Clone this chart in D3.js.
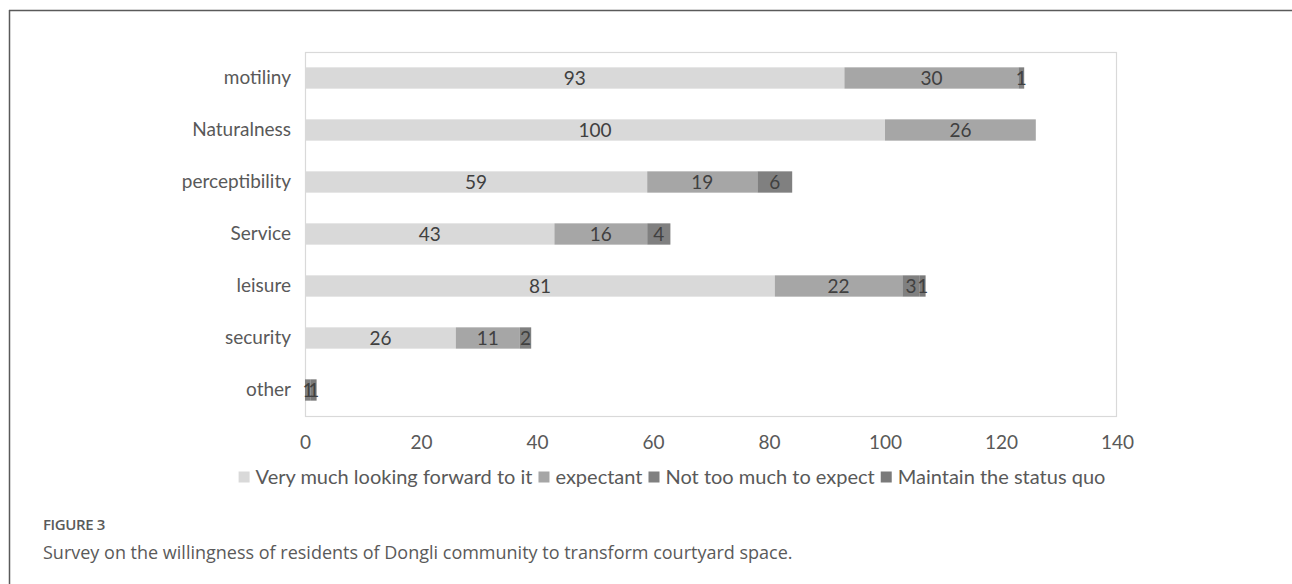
<!DOCTYPE html>
<html>
<head>
<meta charset="utf-8">
<script src="https://cdn.jsdelivr.net/npm/d3@7"></script>
<style>
  html, body { margin: 0; padding: 0; background: #fff; }
  svg { display: block; }
</style>
</head>
<body>
<svg id="chart" width="1292" height="584"></svg>
<script>
// Survey categories, top to bottom
const categories = ["motiliny", "Naturalness", "perceptibility", "Service", "leisure", "security", "other"];

// Response counts per series, in category order
const veryMuch      = [93, 100, 59, 43, 81, 26, 0];
const expectant     = [30, 26, 19, 16, 22, 11, 0];
const notTooMuch    = [1, 0, 6, 4, 3, 2, 1];
const statusQuo     = [0, 0, 0, 0, 1, 0, 1];

const seriesNames = ["Very much looking forward to it", "expectant", "Not too much to expect", "Maintain the status quo"];
const seriesColors = ["#d9d9d9", "#a6a6a6", "#808080", "#7a7a7a"];
const xTicks = [0, 20, 40, 60, 80, 100, 120, 140];

const captionLabel = "FIGURE 3";
const captionText = "Survey on the willingness of residents of Dongli community to transform courtyard space.";

const seriesValues = [veryMuch, expectant, notTooMuch, statusQuo];
const rows = categories.map((c, i) => {
  const r = { category: c };
  seriesNames.forEach((s, k) => r[s] = seriesValues[k][i]);
  return r;
});

const svg = d3.select("#chart");
const font = "Lato, 'Open Sans', sans-serif";

// Figure frame: rule along the top and the left edge
svg.append("line").attr("x1", 9).attr("x2", 1292).attr("y1", 10.5).attr("y2", 10.5)
  .attr("stroke", "#5a5a5a").attr("stroke-width", 1.5);
svg.append("line").attr("x1", 9.5).attr("x2", 9.5).attr("y1", 10).attr("y2", 584)
  .attr("stroke", "#5a5a5a").attr("stroke-width", 1.5);

const plot = { left: 305, right: 1117, top: 52, bottom: 416 };

const x = d3.scaleLinear().domain([0, 140]).range([plot.left, plot.right]);
const y = d3.scaleBand().domain(categories).range([plot.top, plot.bottom]).paddingInner(0.59).paddingOuter(0.295);

// Plot area border
svg.append("rect")
  .attr("x", plot.left + 0.5).attr("y", plot.top + 0.5)
  .attr("width", plot.right - plot.left - 1).attr("height", plot.bottom - plot.top)
  .attr("fill", "none").attr("stroke", "#d9d9d9").attr("stroke-width", 1.2);

const stack = d3.stack().keys(seriesNames)(rows);

const layers = svg.append("g").selectAll("g").data(stack).join("g")
  .attr("fill", (d, i) => seriesColors[i]);

layers.selectAll("rect").data(d => d.filter(s => s[1] - s[0] > 0)).join("rect")
  .attr("x", d => x(d[0]))
  .attr("y", d => y(d.data.category))
  .attr("width", d => x(d[1]) - x(d[0]))
  .attr("height", y.bandwidth());

// Value labels centred in each segment
const labels = svg.append("g").attr("font-family", font).attr("font-size", 19).attr("fill", "#404040")
  .attr("text-anchor", "middle");
stack.forEach(layer => {
  layer.filter(s => s[1] - s[0] > 0).forEach(s => {
    labels.append("text")
      .attr("x", x((s[0] + s[1]) / 2))
      .attr("y", y(s.data.category) + y.bandwidth() / 2)
      .attr("dy", "0.36em")
      .text(s[1] - s[0]);
  });
});

// Category axis
const yAxis = svg.append("g").attr("transform", `translate(${plot.left},0)`)
  .call(d3.axisLeft(y).tickSize(0).tickPadding(14));
yAxis.select(".domain").remove();
yAxis.selectAll("text").attr("font-family", font).attr("font-size", 19).attr("fill", "#595959");

// Value axis
const xAxis = svg.append("g").attr("transform", `translate(0,${plot.bottom})`)
  .call(d3.axisBottom(x).tickValues(xTicks).tickSize(0).tickPadding(20));
xAxis.select(".domain").remove();
xAxis.selectAll("text").attr("font-family", font).attr("font-size", 19).attr("fill", "#595959");

// Legend, centred below the axis
const legendY = 477;
const legendCenter = 672;
const legend = svg.append("g").attr("font-family", font).attr("font-size", 20).attr("fill", "#595959");
const items = legend.selectAll("g").data(seriesNames).join("g");
items.append("rect").attr("width", 11).attr("height", 11).attr("y", legendY - 5.5)
  .attr("fill", (d, i) => seriesColors[i]);
items.append("text").attr("x", 17).attr("y", legendY).attr("dy", "0.36em").text(d => d);
let offsets = [], acc = 0;
items.each(function () {
  offsets.push(acc);
  acc += this.getBBox().width + 6;
});
const legendWidth = acc - 6;
const legendStart = legendCenter - legendWidth / 2;
items.attr("transform", (d, i) => `translate(${legendStart + offsets[i]},0)`);

// Caption
svg.append("text").attr("x", 43).attr("y", 525).attr("dy", "0.36em")
  .attr("font-family", "'Open Sans', sans-serif").attr("font-size", 15).attr("font-weight", 600)
  .attr("fill", "#5a5a5a").attr("letter-spacing", -0.4).text(captionLabel);
svg.append("text").attr("x", 43).attr("y", 553).attr("dy", "0.36em")
  .attr("font-family", "'Open Sans', sans-serif").attr("font-size", 18)
  .attr("fill", "#5a5a5a").text(captionText);
</script>
</body>
</html>
